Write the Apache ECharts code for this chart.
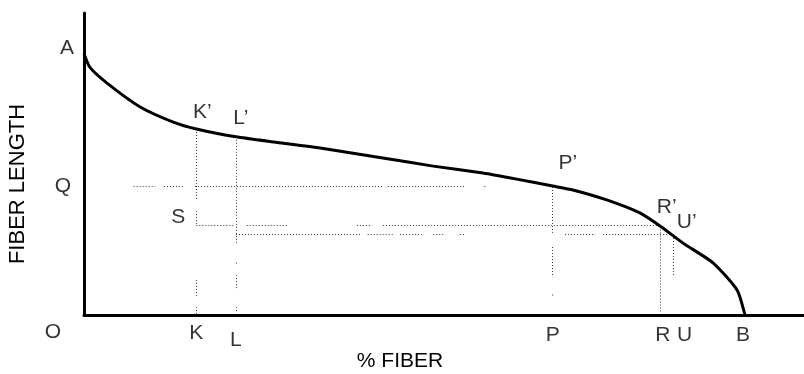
<!DOCTYPE html>
<html>
<head>
<meta charset="utf-8">
<script src="https://cdn.jsdelivr.net/npm/echarts@6/dist/echarts.min.js"></script>
<style>
  html, body { margin: 0; padding: 0; background: #fff; }
  #chart { width: 804px; height: 374px; }
</style>
</head>
<body>
<div id="chart"></div>
<script>
// fiber length curve (x = % fiber, y = length, arbitrary units 0..100)
var curveX = [0, 0.8, 3.2, 7.8, 12.4, 15.6, 21.1, 26.3, 32.8, 41.5, 48.5, 55.4, 60.1, 65.1, 67.9, 72.6, 77.2, 80.1, 83.2, 87.4, 90.7, 91.8];
var curveY = [86.5, 82.1, 76.8, 68.9, 63.9, 61.6, 59.0, 57.3, 55.3, 52.0, 49.3, 47.0, 45.0, 42.7, 41.4, 38.1, 33.8, 29.3, 23.8, 17.2, 8.3, 0];

// dotted construction lines, vertical: [x, y1, y2]
var vLines = [
  [15.6, 61.6, 38.1], [15.6, 34.4, 30.1], [15.6, 11.6, 5.6], [15.6, 2.6, 0],
  [21.1, 59.0, 23.2], [21.1, 17.4, 17.0], [21.1, 13.2, 8.3], [21.1, 2.6, 0.7],
  [65.1, 42.4, 27.2], [65.1, 22.5, 13.2], [65.1, 6.8, 6.4],
  [80.1, 29.3, 1.0],
  [81.9, 26.5, 12.6]
];
// horizontal: [y, x1, x2]
var hLines = [
  [42.7, 6.9, 9.9], [42.7, 11.1, 14.0], [42.7, 15.4, 41.4], [42.7, 42.2, 52.9], [42.7, 55.6, 55.8],
  [29.8, 15.6, 21.0], [29.8, 22.6, 28.2], [29.8, 37.9, 40.0], [29.8, 41.5, 80.0],
  [26.8, 21.1, 38.6], [26.8, 39.4, 42.9], [26.8, 43.9, 46.9], [26.8, 48.5, 50.1], [26.8, 52.2, 52.9],
  [26.8, 66.8, 71.0], [26.8, 72.1, 81.4]
];

// point letters and where they belong
var labelNames = ['A', 'Q', 'S', 'O', 'K', 'L', 'P', 'R', 'U', 'B', 'K’', 'L’', 'P’', 'R’', 'U’'];
var labelX = [0, 0, 15.6, 0, 15.6, 21.1, 65.1, 80.1, 81.9, 91.8, 15.6, 21.1, 65.1, 80.1, 81.9];
var labelY = [86.5, 42.7, 29.8, 0, 0, 0, 0, 0, 0, 0, 61.6, 59.0, 42.7, 29.3, 26.1];

var labelOffset = {
  'A': [-17, -6], 'Q': [-21, 0], 'S': [-18, -8], 'O': [-31, 17],
  'K': [0, 18], 'L': [0, 25], 'P': [0, 20], 'R': [2, 20], 'U': [11, 20], 'B': [-2, 20],
  'K’': [6, -17], 'L’': [5, -19], 'P’': [15, -23], 'R’': [6, -19], 'U’': [13, -14]
};

var FONT = 'Liberation Sans, Arial, sans-serif';

var segs = [];
vLines.forEach(function (v) { segs.push({ coords: [[v[0], v[1]], [v[0], v[2]]] }); });
hLines.forEach(function (h) { segs.push({ coords: [[h[1], h[0]], [h[2], h[0]]] }); });

var chart = echarts.init(document.getElementById('chart'));
chart.setOption({
  backgroundColor: '#fff',
  animation: false,
  grid: { left: 84, right: 0, top: 13, bottom: 59 },
  xAxis: {
    type: 'value', min: 0, max: 100,
    axisLine: { show: true, onZero: false, lineStyle: { color: '#000', width: 3 } },
    axisTick: { show: false }, axisLabel: { show: false }, splitLine: { show: false }
  },
  yAxis: {
    type: 'value', min: 0, max: 100,
    axisLine: { show: true, onZero: false, lineStyle: { color: '#000', width: 3 } },
    axisTick: { show: false }, axisLabel: { show: false }, splitLine: { show: false }
  },
  graphic: [
    {
      type: 'text', x: 400, y: 361,
      style: { text: '% FIBER', font: '21px ' + FONT, fill: '#000', textAlign: 'center', textVerticalAlign: 'middle' }
    },
    {
      type: 'text', x: 18, y: 184, rotation: Math.PI / 2,
      style: { text: 'FIBER LENGTH', font: '22px ' + FONT, fill: '#000', textAlign: 'center', textVerticalAlign: 'middle' }
    }
  ],
  series: [
    {
      type: 'lines',
      coordinateSystem: 'cartesian2d',
      silent: true,
      lineStyle: { color: '#333', width: 1, type: [1, 2], opacity: 1 },
      data: segs
    },
    {
      type: 'line',
      symbol: 'none',
      smooth: 0.2,
      lineStyle: { color: '#000', width: 3 },
      data: curveX.map(function (x, i) { return [x, curveY[i]]; })
    },
    {
      type: 'scatter',
      symbolSize: 0,
      silent: true,
      label: {
        show: true, position: 'inside', formatter: '{b}',
        fontFamily: FONT, fontSize: 21, color: '#000'
      },
      data: labelNames.map(function (n, i) {
        return { name: n, value: [labelX[i], labelY[i]], label: { offset: labelOffset[n] } };
      })
    }
  ]
});
</script>
</body>
</html>
